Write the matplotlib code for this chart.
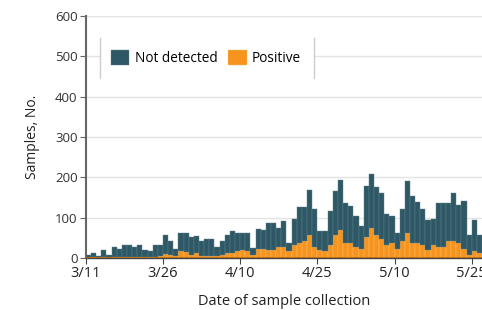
import numpy as np
import matplotlib
matplotlib.use("Agg")
import matplotlib.pyplot as plt
from matplotlib.patches import Rectangle

# daily sample counts, 3/11 through 5/26
total = [8, 12, 6, 20, 8, 27, 22, 32, 32, 27, 32, 20, 18, 32, 32,
         56, 43, 22, 63, 63, 52, 55, 43, 48, 48, 28, 43, 58, 68, 62,
         61, 61, 25, 72, 70, 87, 87, 75, 92, 37, 97, 127, 127, 168, 122,
         66, 68, 117, 167, 193, 137, 129, 104, 79, 179, 208, 175, 162, 108, 105,
         61, 122, 191, 154, 139, 122, 93, 97, 137, 137, 137, 162, 132, 141, 56,
         93, 56]
positive = [1, 2, 1, 2, 1, 2, 2, 3, 3, 2, 3, 2, 2, 3, 4,
            10, 8, 4, 16, 14, 8, 12, 6, 6, 6, 6, 8, 12, 12, 17,
            20, 17, 8, 22, 22, 19, 19, 27, 27, 17, 31, 37, 42, 56, 28,
            20, 17, 31, 58, 70, 37, 37, 28, 22, 52, 75, 56, 47, 33, 37,
            21, 42, 62, 37, 37, 31, 19, 31, 28, 28, 42, 42, 37, 22, 8,
            17, 12]
not_detected = [t - p for t, p in zip(total, positive)]

tick_pos = [0, 15, 30, 45, 60, 75]
tick_labels = ["3/11", "3/26", "4/10", "4/25", "5/10", "5/25"]

plt.rcParams['font.family'] = ['Open Sans', 'DejaVu Sans']

teal = "#2f5866"
orange = "#f7941d"
grey = "#444444"

fig = plt.figure(figsize=(4.82, 3.10), dpi=100)
ax = fig.add_axes([0.178, 0.168, 0.822, 0.78])

days = np.arange(len(total))
ax.bar(days, positive, width=1, align='edge', color=orange,
       edgecolor="#fbc27c", linewidth=0.3, label="Positive", zorder=2)
ax.bar(days, not_detected, width=1, align='edge', bottom=positive, color=teal,
       edgecolor="#5d7f8a", linewidth=0.3, label="Not detected", zorder=2)
ax.axhline(0.8, color="#b86a10", lw=1.2, zorder=3)

ax.set_xlim(0, 77)
ax.set_ylim(0, 600)
ax.set_yticks(range(0, 601, 100))
ax.set_xticks(tick_pos)
ax.set_xticklabels(tick_labels)
ax.grid(axis='y', color="#e3e3e3", lw=1, zorder=0)
ax.set_axisbelow(True)

for s in ['top', 'right']:
    ax.spines[s].set_visible(False)
ax.spines['left'].set_color("#666666")
ax.spines['left'].set_linewidth(1.5)
ax.spines['bottom'].set_color(grey)
ax.spines['bottom'].set_linewidth(1)
ax.tick_params(axis='y', length=4, color="#666666", labelsize=9.5, labelcolor="#333333", pad=2)
ax.tick_params(axis='x', length=4, color=grey, labelsize=10.5, labelcolor="#222222", pad=2)

ax.set_xlabel("Date of sample collection", fontsize=10.5, color="#222222", labelpad=9)
ax.set_ylabel("Samples, No.", fontsize=10, color="#222222", labelpad=11)

# legend panel: white box with grey side rules
ax.add_patch(Rectangle((0.035, 0.745), 0.54, 0.165, transform=ax.transAxes,
                       facecolor="white", edgecolor="none", zorder=4))
for xx in [0.035, 0.575]:
    ax.plot([xx, xx], [0.745, 0.91], transform=ax.transAxes, color="#cccccc",
            lw=1, zorder=5, clip_on=False)
h, l = ax.get_legend_handles_labels()
leg = ax.legend(h[::-1], l[::-1], loc='center left', bbox_to_anchor=(0.063, 0.828),
                ncol=2, frameon=False, fontsize=9.8, handlelength=1.35,
                handleheight=1.35, handletextpad=0.4, columnspacing=0.8,
                borderpad=0, borderaxespad=0)
leg.set_zorder(6)

fig.savefig("out.png", dpi=100)
